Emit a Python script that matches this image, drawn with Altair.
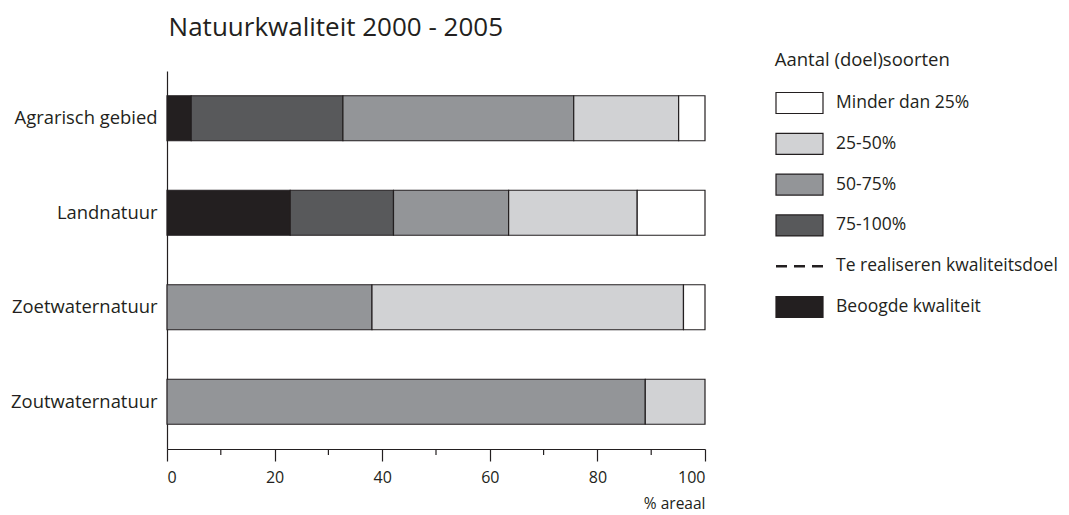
import altair as alt
import pandas as pd

FONT = "Open Sans"
INK = "#231f20"

categories = ["Agrarisch gebied", "Landnatuur", "Zoetwaternatuur", "Zoutwaternatuur"]
classes = ["Beoogde kwaliteit", "75-100%", "50-75%", "25-50%", "Minder dan 25%"]
class_colors = ["#231f20", "#58595b", "#939598", "#d1d2d4", "#ffffff"]

# percentage of area per class, per category (left to right)
beoogde = [4.5, 22.9, 0.0, 0.0]
p75_100 = [28.2, 19.2, 0.0, 0.0]
p50_75 = [42.9, 21.4, 38.1, 88.9]
p25_50 = [19.5, 23.9, 57.9, 11.1]
minder25 = [4.9, 12.6, 4.0, 0.0]

x_ticks_major = [0, 20, 40, 60, 80, 100]
x_ticks_minor = [10, 30, 50, 70, 90]

legend_labels = ["Minder dan 25%", "25-50%", "50-75%", "75-100%",
                 "Te realiseren kwaliteitsdoel", "Beoogde kwaliteit"]
legend_fills = ["#ffffff", "#d1d2d4", "#939598", "#58595b", "none", "#231f20"]
legend_kinds = ["box", "box", "box", "box", "dash", "box"]

series = [beoogde, p75_100, p50_75, p25_50, minder25]
rows = []
for ci, cat in enumerate(categories):
    for ki, kl in enumerate(classes):
        v = series[ki][ci]
        if v > 0:
            rows.append({"category": cat, "klasse": kl, "value": v, "order": ki})
df = pd.DataFrame(rows)

W, H = 538, 378
NOVIEW = alt.ViewBackground(stroke="transparent", strokeWidth=0)

bars = alt.Chart(df).mark_bar(stroke=INK, strokeWidth=1.2).encode(
    y=alt.Y("category:N", sort=categories,
            scale=alt.Scale(paddingInner=0.524, paddingOuter=0.262),
            axis=alt.Axis(title=None, ticks=False, domainColor=INK, domainWidth=1.2,
                          labelFontSize=18.4, labelPadding=10, labelColor=INK,
                          labelFont=FONT)),
    x=alt.X("value:Q", stack="zero",
            scale=alt.Scale(domain=[0, 100], nice=False),
            axis=alt.Axis(values=x_ticks_major, tickSize=12, tickColor=INK, tickWidth=1.2,
                          domainColor=INK, domainWidth=1.2, grid=False,
                          labelFontSize=16, labelColor=INK, labelFont=FONT, labelPadding=8,
                          title="% areaal", titleAnchor="end", titleFontSize=15.5,
                          titleFontWeight="normal", titleColor=INK, titleFont=FONT,
                          titlePadding=11)),
    color=alt.Color("klasse:N", scale=alt.Scale(domain=classes, range=class_colors),
                    legend=None),
    order=alt.Order("order:Q"),
)

minor = alt.Chart(pd.DataFrame({"t": x_ticks_minor})).mark_rule(
    color=INK, strokeWidth=1.2).encode(
    x=alt.X("t:Q"), y=alt.value(H), y2=alt.value(H + 6))

main = alt.layer(bars, minor).properties(width=W, height=H, view=NOVIEW)

leg_df = pd.DataFrame({"label": legend_labels, "fill": legend_fills, "kind": legend_kinds})
ybase = alt.Y("label:N", sort=legend_labels,
              scale=alt.Scale(paddingInner=0.485, paddingOuter=0.527), axis=None)

boxes = alt.Chart(leg_df).transform_filter("datum.kind == 'box'").mark_rect(
    stroke=INK, strokeWidth=1.2).encode(
    y=ybase, x=alt.value(0), x2=alt.value(47),
    fill=alt.Fill("fill:N", scale=None))

dash = alt.Chart(leg_df).transform_filter("datum.kind == 'dash'").mark_rule(
    strokeDash=[11, 7], strokeWidth=2.5, color=INK).encode(
    y=ybase, x=alt.value(0), x2=alt.value(47))

texts = alt.Chart(leg_df).mark_text(
    align="left", baseline="middle", fontSize=17.5, font=FONT, color=INK).encode(
    y=ybase, x=alt.value(60), text="label:N")

legend = alt.layer(boxes, dash, texts).properties(
    width=280, height=268, view=NOVIEW,
    title=alt.TitleParams("Aantal (doel)soorten", anchor="start", fontSize=18.5,
                          fontWeight="normal", font=FONT, color=INK, offset=2))

chart = alt.hconcat(main, legend, spacing=71, bounds="flush").properties(
    padding={"left": 2, "top": 6, "right": 0, "bottom": 0},
    title=alt.TitleParams("Natuurkwaliteit 2000 - 2005", anchor="start", fontSize=26,
                          fontWeight="normal", font=FONT, color=INK, dx=158, offset=10)
).configure_view(stroke="transparent", strokeWidth=0).configure(font=FONT)

chart.save("out.html", embed_options={"renderer": "svg", "actions": False})
